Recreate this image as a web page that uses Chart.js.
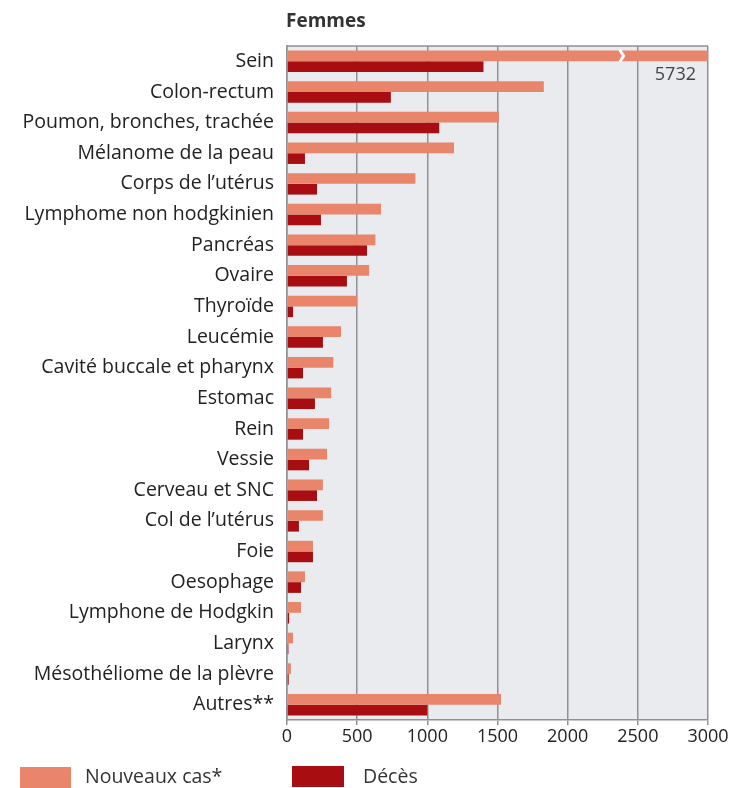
<!DOCTYPE html>
<html>
<head>
<meta charset="utf-8">
<script src="https://cdn.jsdelivr.net/npm/chart.js@4.4.1/dist/chart.umd.min.js"></script>
<style>
  html, body { margin: 0; padding: 0; background: #fff; }
  #wrap { width: 734px; height: 788px; position: relative; }
</style>
</head>
<body>
<div id="wrap"><canvas id="chart" width="734" height="788"></canvas></div>
<script>
const categories = [
    'Sein', 'Colon-rectum', 'Poumon, bronches, trachée', 'Mélanome de la peau',
    'Corps de l\u2019utérus', 'Lymphome non hodgkinien', 'Pancréas', 'Ovaire',
    'Thyroïde', 'Leucémie', 'Cavité buccale et pharynx', 'Estomac', 'Rein',
    'Vessie', 'Cerveau et SNC', 'Col de l\u2019utérus', 'Foie', 'Oesophage',
    'Lymphone de Hodgkin', 'Larynx', 'Mésothéliome de la plèvre', 'Autres**'
];
const nouveauxCas = [5732, 1830, 1510, 1190, 915, 670, 630, 585, 500, 385, 330, 315, 300,
    285, 256, 256, 185, 128, 100, 43, 28, 1525];
const deces = [1400, 740, 1085, 128, 214, 242, 570, 427, 43, 256, 114, 199, 114,
    157, 214, 85, 185, 100, 15, 10, 12, 1000];
const xTicks = [0, 500, 1000, 1500, 2000, 2500, 3000];

const X_MAX = 3000;
const BREAK_AT = 2370; // where the truncated bar is cut
const FONT = '"Open Sans", sans-serif';
const colNew = '#e8856a';
const colDeaths = '#a80d12';
const gridCol = '#8d9298';

// plot background + frame
const frame = {
    id: 'frame',
    beforeDraw(chart) {
        const { ctx, chartArea: a } = chart;
        ctx.save();
        ctx.fillStyle = '#e9ebee';
        ctx.fillRect(a.left, a.top, a.right - a.left, a.bottom - a.top);
        ctx.restore();
    },
    afterDraw(chart) {
        const { ctx, chartArea: a } = chart;
        ctx.save();
        ctx.strokeStyle = gridCol;
        ctx.lineWidth = 1.5;
        ctx.beginPath();
        ctx.moveTo(a.left, a.top);
        ctx.lineTo(a.right, a.top);
        ctx.stroke();

        // title
        ctx.fillStyle = '#333';
        ctx.font = 'bold 19px ' + FONT;
        ctx.textBaseline = 'middle';
        ctx.textAlign = 'left';
        ctx.fillText('Femmes', a.left - 1, 22);

        // break mark on the oversized bar + its value
        const meta = chart.getDatasetMeta(0);
        nouveauxCas.forEach((v, i) => {
            if (v <= X_MAX) return;
            const bar = meta.data[i];
            const h = bar.height;
            const x = chart.scales.x.getPixelForValue(BREAK_AT);
            ctx.strokeStyle = '#ffffff';
            ctx.lineWidth = 3;
            ctx.beginPath();
            ctx.moveTo(x, bar.y - h / 2 - 1);
            ctx.lineTo(x + 4, bar.y);
            ctx.lineTo(x, bar.y + h / 2 + 1);
            ctx.stroke();
            ctx.fillStyle = '#444';
            ctx.font = '18px ' + FONT;
            ctx.textAlign = 'right';
            ctx.fillText(String(v), a.right - 12, bar.y + 19);
        });

        // legend
        ctx.textAlign = 'left';
        ctx.font = '19.5px ' + FONT;
        ctx.fillStyle = colNew;
        ctx.fillRect(20, 767, 51, 21);
        ctx.fillStyle = colDeaths;
        ctx.fillRect(292, 766, 52, 21);
        ctx.fillStyle = '#333';
        ctx.fillText(chart.data.datasets[0].label, 85, 777);
        ctx.fillText(chart.data.datasets[1].label, 363, 777);
        ctx.restore();
    }
};

new Chart(document.getElementById('chart'), {
    type: 'bar',
    data: {
        labels: categories,
        datasets: [
            { label: 'Nouveaux cas*', data: nouveauxCas, backgroundColor: colNew, clip: 0 },
            { label: 'Décès', data: deces, backgroundColor: colDeaths, clip: 0 }
        ]
    },
    options: {
        indexAxis: 'y',
        responsive: false,
        animation: false,
        devicePixelRatio: 1,
        layout: { padding: { top: 46, right: 26, bottom: 32, left: 0 } },
        datasets: { bar: { categoryPercentage: 0.7, barPercentage: 1 } },
        plugins: { legend: { display: false }, tooltip: { enabled: false } },
        scales: {
            x: {
                min: 0,
                max: X_MAX,
                afterBuildTicks: scale => { scale.ticks = xTicks.map(v => ({ value: v })); },
                afterFit: scale => { scale.height = 36; },
                grid: { color: gridCol, lineWidth: 1.5, drawTicks: true, tickLength: 5 },
                border: { color: gridCol, width: 1.5 },
                ticks: {
                    color: '#222', font: { family: FONT, size: 18 }, padding: 1,
                    callback: v => String(v)
                }
            },
            y: {
                afterFit: scale => { scale.width = 287; },
                grid: { display: false },
                border: { color: gridCol, width: 1.5 },
                ticks: { color: '#222', font: { family: FONT, size: 19.5 }, padding: 5, autoSkip: false }
            }
        }
    },
    plugins: [frame]
});
</script>
</body>
</html>
